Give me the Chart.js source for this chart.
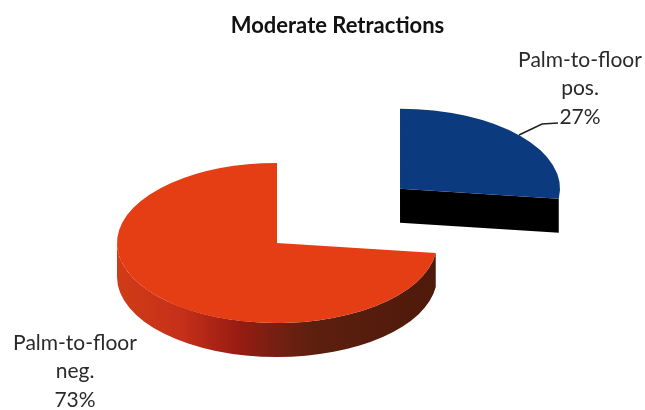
<!DOCTYPE html>
<html>
<head>
<meta charset="utf-8">
<style>
  html, body { margin: 0; padding: 0; background: #fff; }
  canvas { display: block; }
</style>
<script src="https://cdn.jsdelivr.net/npm/chart.js@4"></script>
</head>
<body>
<canvas id="chart" width="645" height="410"></canvas>
<script>
const title = 'Moderate Retractions';
const categories = [['Palm-to-floor', 'pos.'], ['Palm-to-floor', 'neg.']];
const values = [27, 73];

const topColors = ['#0b3b7e', '#e53e15'];
const explode = [164, 0];
const labelSpots = [{ x: 580, y: 60 }, { x: 75, y: 343 }];

// the unexploded pie sits here, tilted
const center = { x: 277, y: 243 };
const radius = 160;
const squash = 0.5;
const depth = 34;

function sideFill(ctx, i) {
    if (i === 0) return '#000000';
    const g = ctx.createLinearGradient(center.x - radius, 0, center.x + radius, 0);
    g.addColorStop(0, '#d03c16');
    g.addColorStop(0.2, '#c6301a');
    g.addColorStop(0.38, '#981b12');
    g.addColorStop(0.5, '#742012');
    g.addColorStop(0.62, '#5c1f0e');
    g.addColorStop(1, '#4e1a0b');
    return g;
}

const pie3d = {
    id: 'pie3d',
    beforeDatasetDraw(chart, args) {
        const ctx = chart.ctx;
        chart.getDatasetMeta(args.index).data.forEach((arc, i) => {
            const { startAngle, endAngle, x, y } = arc.getProps(['startAngle', 'endAngle', 'x', 'y'], true);
            const mid = (startAngle + endAngle) / 2;
            const cx = center.x + Math.cos(mid) * explode[i];
            const cy = center.y + Math.sin(mid) * explode[i] * squash;
            const ry = radius * squash;

            // outer wall, front half only
            const full = Math.PI * 2;
            let a = startAngle, b = endAngle;
            if (a < 0) { a += full; b += full; }
            const from = Math.max(a, 0);
            const to = Math.min(b, Math.PI);
            ctx.save();
            ctx.fillStyle = sideFill(ctx, i);
            if (to > from) {
                ctx.beginPath();
                ctx.ellipse(cx, cy, radius, ry, 0, from, to);
                ctx.ellipse(cx, cy + depth, radius, ry, 0, to, from, true);
                ctx.closePath();
                ctx.fill();
            }
            // cut face at the end of the slice
            const ex = cx + Math.cos(endAngle) * radius;
            const ey = cy + Math.sin(endAngle) * ry;
            ctx.beginPath();
            ctx.moveTo(cx, cy);
            ctx.lineTo(ex, ey);
            ctx.lineTo(ex, ey + depth);
            ctx.lineTo(cx, cy + depth);
            ctx.closePath();
            ctx.fill();
            ctx.restore();

            ctx.save();
            ctx.translate(cx, cy);
            ctx.scale(1, squash);
            ctx.translate(-x, -y);
            arc.draw(ctx);
            ctx.restore();
        });
        return false;
    },
    afterDraw(chart) {
        const ctx = chart.ctx;
        ctx.save();
        // leader line to the 27% label
        ctx.strokeStyle = '#222222';
        ctx.lineWidth = 1.6;
        ctx.beginPath();
        ctx.moveTo(519, 135);
        ctx.lineTo(542, 124);
        ctx.lineTo(558, 123);
        ctx.stroke();

        ctx.fillStyle = '#2a2a2a';
        ctx.font = '21px Lato';
        ctx.textAlign = 'center';
        ctx.textBaseline = 'middle';
        categories.forEach((lines, i) => {
            const rows = lines.concat(values[i] + '%');
            rows.forEach((row, r) => {
                ctx.fillText(row, labelSpots[i].x, labelSpots[i].y + r * 28.5);
            });
        });
        ctx.restore();
    }
};

new Chart(document.getElementById('chart'), {
    type: 'pie',
    data: {
        labels: categories,
        datasets: [{
            data: values,
            backgroundColor: topColors,
            borderWidth: 0,
            radius: radius
        }]
    },
    options: {
        responsive: false,
        animation: false,
        layout: { padding: { left: 30 } },
        plugins: {
            legend: { display: false },
            tooltip: { enabled: false },
            title: {
                display: true,
                text: title,
                color: '#111111',
                font: { family: 'Lato', size: 22, weight: 'bold' },
                padding: { top: 13, bottom: 10 }
            }
        }
    },
    plugins: [pie3d]
});
</script>
</body>
</html>
